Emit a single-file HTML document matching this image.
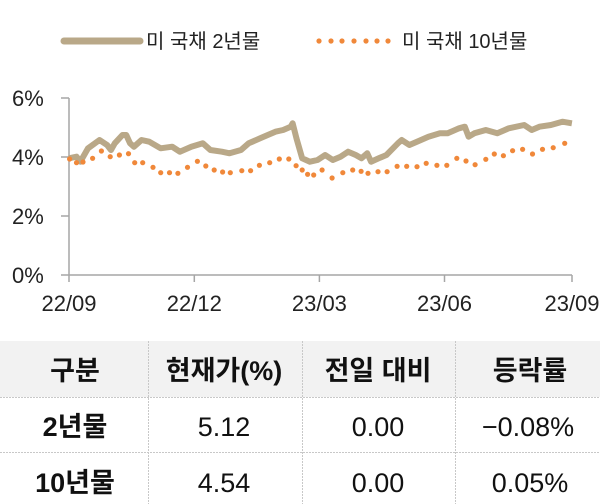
<!DOCTYPE html>
<html><head><meta charset="utf-8"><style>
html,body{margin:0;padding:0;background:#fff;width:600px;height:504px;overflow:hidden}
svg{position:absolute;left:0;top:0}
text{font-family:"Liberation Sans","Noto Sans CJK KR",sans-serif}
</style></head><body>
<svg width="600" height="504" viewBox="0 0 600 504">
<line x1="64" y1="41" x2="140" y2="41" stroke="#b9a888" stroke-width="7" stroke-linecap="round"/>
<text x="146" y="48" font-size="20" fill="#222">미 국채 2년물</text>
<g fill="#f0883a">
<circle cx="319" cy="41" r="2.6"/><circle cx="331" cy="41" r="2.6"/><circle cx="342" cy="41" r="2.6"/><circle cx="354" cy="41" r="2.6"/><circle cx="366" cy="41" r="2.6"/><circle cx="377" cy="41" r="2.6"/><circle cx="388" cy="41" r="2.6"/>
</g>
<text x="402" y="48" font-size="20" fill="#222">미 국채 10년물</text>
<g stroke="#a6a6a6" stroke-width="1.5">
<line x1="61" y1="275" x2="572" y2="275"/>
<line x1="69" y1="98" x2="69" y2="282"/>
<line x1="61" y1="98" x2="69" y2="98"/><line x1="61" y1="157" x2="69" y2="157"/><line x1="61" y1="216" x2="69" y2="216"/>
<line x1="194.3" y1="275" x2="194.3" y2="282"/><line x1="319.4" y1="275" x2="319.4" y2="282"/><line x1="444.5" y1="275" x2="444.5" y2="282"/><line x1="572" y1="275" x2="572" y2="282"/>
</g>
<g font-size="22" fill="#222">
<text x="12" y="106">6%</text><text x="12" y="165">4%</text><text x="12" y="224">2%</text><text x="12" y="283">0%</text>
</g>
<g font-size="22" fill="#222" text-anchor="middle">
<text x="69" y="311">22/09</text><text x="194.3" y="311">22/12</text><text x="319.4" y="311">23/03</text><text x="444.5" y="311">23/06</text><text x="572" y="311">23/09</text>
</g>
<polyline fill="none" stroke="#b9a888" stroke-width="6" stroke-linejoin="round" vector-effect="non-scaling-stroke" transform="matrix(1.1477 0 0 1 0 0)" points="60,158.3 66.7,156.7 70,161.7 76.7,148.3 86.7,140 93.3,145 96.7,150 100,143.3 106.7,135 110,135 113.3,143.3 116.7,146.7 123.3,140 130,141.7 140,148.3 150,146.7 156.7,151.7 166.7,146.7 176.7,143.3 183.3,150 193.3,151.7 200,153.3 210,150 216.7,143.3 226.7,138.3 233.3,135 240,131.7 246.7,130 253.3,126.7 255,123.3 258.3,138.3 263.3,158.3 270,161.7 276.7,160 283.3,155 290,160 296.7,156.7 303.3,151.7 310,155 315,158.3 320,153.3 323.3,161.7 330,158.3 336.7,155 346.7,143.3 350,140 356.7,145 363.3,141.7 373.3,136.7 383.3,133.3 390,133.3 400,128.3 405,126.7 408.3,136.7 413.3,133.3 423.3,130 433.3,133.3 443.3,128.3 456.7,125 463.3,130 470,126.7 480,125 490,121.7 498.3,123.3"/>
<g fill="#f0883a">
<circle cx="69.6" cy="159" r="2.6"/><circle cx="76.5" cy="162.7" r="2.6"/><circle cx="83" cy="162" r="2.6"/><circle cx="92.6" cy="158.3" r="2.6"/><circle cx="101.4" cy="151" r="2.6"/><circle cx="110.2" cy="156.7" r="2.6"/><circle cx="119.4" cy="155" r="2.6"/><circle cx="128.5" cy="153.7" r="2.6"/><circle cx="134.7" cy="162.7" r="2.6"/><circle cx="142.7" cy="162.7" r="2.6"/><circle cx="153" cy="167.3" r="2.6"/><circle cx="160.7" cy="172.7" r="2.6"/><circle cx="169.5" cy="172.7" r="2.6"/><circle cx="177.9" cy="173.3" r="2.6"/><circle cx="187.5" cy="167.3" r="2.6"/><circle cx="197.4" cy="161.3" r="2.6"/><circle cx="205.8" cy="166" r="2.6"/><circle cx="214.2" cy="170" r="2.6"/><circle cx="222.6" cy="172" r="2.6"/><circle cx="230.3" cy="172.7" r="2.6"/><circle cx="241.8" cy="170.7" r="2.6"/><circle cx="250.6" cy="170.7" r="2.6"/><circle cx="259.4" cy="165.3" r="2.6"/><circle cx="269.7" cy="162.7" r="2.6"/><circle cx="279.3" cy="159" r="2.6"/><circle cx="288.8" cy="159" r="2.6"/><circle cx="296.1" cy="165.7" r="2.6"/><circle cx="302.2" cy="170" r="2.6"/><circle cx="307.6" cy="174.3" r="2.6"/><circle cx="313.7" cy="175" r="2.6"/><circle cx="322.1" cy="170" r="2.6"/><circle cx="332.1" cy="178" r="2.6"/><circle cx="342.8" cy="172.7" r="2.6"/><circle cx="352.7" cy="170" r="2.6"/><circle cx="361.1" cy="171.3" r="2.6"/><circle cx="368" cy="173.3" r="2.6"/><circle cx="378" cy="171.7" r="2.6"/><circle cx="387.1" cy="171.7" r="2.6"/><circle cx="397.1" cy="166.3" r="2.6"/><circle cx="406.7" cy="166.3" r="2.6"/><circle cx="417" cy="166.7" r="2.6"/><circle cx="426.2" cy="163.3" r="2.6"/><circle cx="436.9" cy="165.3" r="2.6"/><circle cx="446.8" cy="165.3" r="2.6"/><circle cx="456.8" cy="158.3" r="2.6"/><circle cx="466" cy="161" r="2.6"/><circle cx="475.1" cy="164.7" r="2.6"/><circle cx="485.8" cy="159.3" r="2.6"/><circle cx="494.3" cy="154" r="2.6"/><circle cx="503.4" cy="155.7" r="2.6"/><circle cx="512.6" cy="150.7" r="2.6"/><circle cx="522.6" cy="149.3" r="2.6"/><circle cx="532.5" cy="154" r="2.6"/><circle cx="542.5" cy="149.3" r="2.6"/><circle cx="553.2" cy="147.7" r="2.6"/><circle cx="564.7" cy="143.3" r="2.6"/>
</g>
<rect x="0" y="341" width="600" height="56" fill="#f2f2f2"/>
<g stroke="#c8c8c8" stroke-width="1" stroke-dasharray="2,1">
<line x1="0" y1="397.5" x2="600" y2="397.5"/><line x1="0" y1="452.5" x2="600" y2="452.5"/>
<line x1="148.5" y1="341" x2="148.5" y2="504"/><line x1="302.5" y1="341" x2="302.5" y2="504"/><line x1="455.5" y1="341" x2="455.5" y2="504"/>
</g>
<g font-size="27" fill="#111" text-anchor="middle">
<text x="75" y="380" font-weight="bold">구분</text>
<text x="224" y="380" font-weight="bold">현재가(%)</text>
<text x="378" y="380" font-weight="bold">전일 대비</text>
<text x="530" y="380" font-weight="bold">등락률</text>
<text x="75" y="436" font-weight="bold">2년물</text>
<text x="224" y="436">5.12</text><text x="378" y="436">0.00</text><text x="528" y="436">−0.08%</text>
<text x="75" y="492" font-weight="bold">10년물</text>
<text x="224" y="492">4.54</text><text x="378" y="492">0.00</text><text x="530" y="492">0.05%</text>
</g>
</svg>
</body></html>
